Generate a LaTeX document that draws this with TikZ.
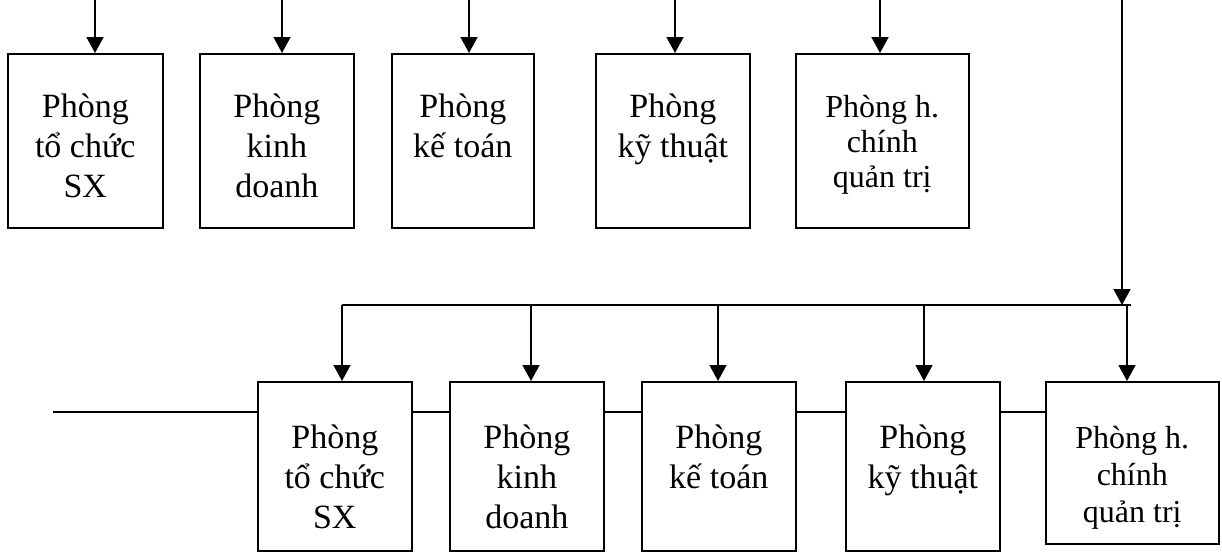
\documentclass[tikz,border=0pt]{standalone}
\usepackage{fontspec}
\setmainfont{Liberation Serif}
\usetikzlibrary{arrows.meta}
\begin{document}
\begin{tikzpicture}[x=1pt,y=-1pt,
  box/.style={draw,line width=1.6pt,inner sep=0pt,anchor=north west},
  lbl/.style={align=center,inner sep=0pt,anchor=north,font=\fontsize{34}{40}\selectfont},
  lbls/.style={align=center,inner sep=0pt,anchor=north,font=\fontsize{32}{35}\selectfont},
  lblsb/.style={align=center,inner sep=0pt,anchor=north,font=\fontsize{32}{37}\selectfont},
  arr/.style={line width=1.6pt,-{Triangle[length=16pt,width=17pt]}},
  ln/.style={line width=1.4pt}]
\useasboundingbox (0,0) rectangle (1222,554);
% top boxes
\node[box,minimum width=155pt,minimum height=174pt] (t1) at (7,53) {};
\node[box,minimum width=154pt,minimum height=174pt] (t2) at (199,53) {};
\node[box,minimum width=142pt,minimum height=174pt] (t3) at (391,53) {};
\node[box,minimum width=154pt,minimum height=174pt] (t4) at (595,53) {};
\node[box,minimum width=173pt,minimum height=174pt] (t5) at (795,53) {};
\node[lbl] (t1l) at ([yshift=-41pt]t1.north) {Phòng\\tổ chức\\SX};
\node[lbl] (t2l) at ([yshift=-41pt]t2.north) {Phòng\\kinh\\doanh};
\node[lbl] (t3l) at ([yshift=-41pt]t3.north) {Phòng\\kế toán};
\node[lbl] (t4l) at ([yshift=-41pt]t4.north) {Phòng\\kỹ thuật};
\node[lbls] (t5l) at ([yshift=-42pt]t5.north) {Phòng h.\\chính\\quản trị};
% arrows into top boxes
\coordinate (s1) at (95,0);
\coordinate (s2) at (282,0);
\coordinate (s3) at (469,0);
\coordinate (s4) at (675,0);
\coordinate (s5) at (880,0);
\foreach \i in {1,...,5} {\draw[arr] (s\i) -- (s\i |- t\i.north);}
% bottom boxes
\node[box,minimum width=154pt,minimum height=169pt] (b1) at (257,381) {};
\node[box,minimum width=154pt,minimum height=169pt] (b2) at (449,381) {};
\node[box,minimum width=154pt,minimum height=169pt] (b3) at (641,381) {};
\node[box,minimum width=154pt,minimum height=169pt] (b4) at (845,381) {};
\node[box,minimum width=173pt,minimum height=162pt] (b5) at (1045,381) {};
\node[lbl] (b1l) at ([yshift=-44pt]b1.north) {Phòng\\tổ chức\\SX};
\node[lbl] (b2l) at ([yshift=-44pt]b2.north) {Phòng\\kinh\\doanh};
\node[lbl] (b3l) at ([yshift=-44pt]b3.north) {Phòng\\kế toán};
\node[lbl] (b4l) at ([yshift=-44pt]b4.north) {Phòng\\kỹ thuật};
\node[lblsb] (b5l) at ([yshift=-45pt]b5.north) {Phòng h.\\chính\\quản trị};
% right feed and bus
\coordinate (r0) at (1122,0);
\coordinate (busL) at (342,305);
\coordinate (busR) at (1131,305);
\draw[arr] (r0) -- (r0 |- busL);
\draw[ln] (busL) -- (busR);
\coordinate (p1) at (342,305);
\coordinate (p2) at (531,305);
\coordinate (p3) at (718,305);
\coordinate (p4) at (924,305);
\coordinate (p5) at (1127,305);
\foreach \i in {1,...,5} {\draw[arr] (p\i) -- (p\i |- b\i.north);}
% horizontal link line
\coordinate (l0) at (53,412);
\draw[ln] (l0) -- (l0 -| b1.west);
\draw[ln] (b1.east |- l0) -- (b2.west |- l0);
\draw[ln] (b2.east |- l0) -- (b3.west |- l0);
\draw[ln] (b3.east |- l0) -- (b4.west |- l0);
\draw[ln] (b4.east |- l0) -- (b5.west |- l0);
\end{tikzpicture}
\end{document}
